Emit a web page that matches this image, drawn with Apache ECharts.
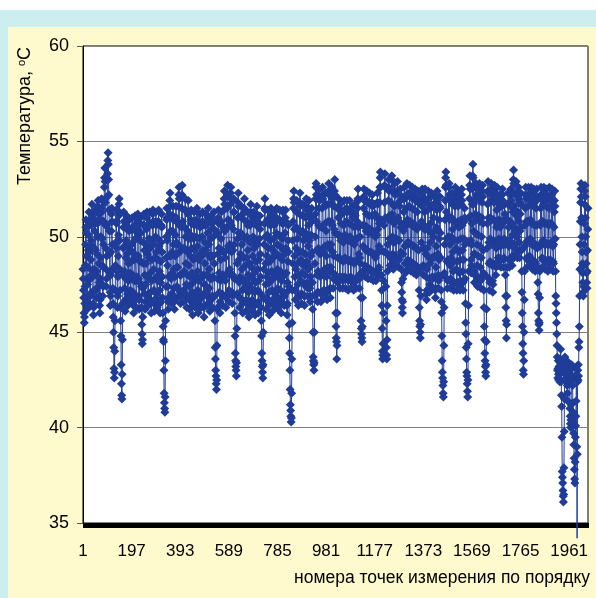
<!DOCTYPE html>
<html><head><meta charset="utf-8">
<script src="https://cdn.jsdelivr.net/npm/echarts@6/dist/echarts.min.js"></script>
<style>
html,body{margin:0;padding:0;width:596px;height:598px;background:#fff;overflow:hidden}
#frame{position:absolute;left:0;top:10px;width:596px;height:588px;background:#CCEEEE}
#inner{position:absolute;left:8px;top:27px;width:588px;height:571px;background:#FFFACD}
#chart{position:absolute;left:0;top:0;width:596px;height:598px}
</style></head><body>
<div id="frame"></div><div id="inner"></div><div id="chart"></div>
<script>
// Temperature readings (°C), grouped by label interval (196 points each)
const seg0 = [48.3,47.8,47.2,46.8,46.0,45.5,45.8,46.5,47.4,48.5,49.6,50.5,50.9,50.2,
49.0,47.8,46.9,46.2,46.6,47.5,48.4,49.3,50.1,50.8,51.3,50.6,49.2,47.9,
47.0,46.4,46.9,47.8,48.8,49.8,50.6,51.2,51.7,51.0,49.5,48.2,47.1,46.5,
45.9,46.3,47.2,48.3,49.4,50.3,50.9,51.4,50.7,49.3,48.0,47.2,46.8,47.3,
48.2,49.1,50.0,50.7,51.6,51.9,51.2,50.0,48.6,47.6,46.9,46.4,46.0,46.7,
47.8,48.9,50.0,50.9,51.5,52.0,51.3,49.9,48.5,47.5,46.9,47.4,48.4,49.6,
50.8,51.8,52.6,53.1,53.6,52.9,51.8,50.6,49.4,48.3,47.4,47.8,49.0,50.6,
52.1,53.3,54.0,54.4,53.8,53.0,52.2,51.4,50.3,49.1,48.1,47.1,46.4,46.9,
48.0,49.2,50.3,51.2,51.5,50.8,49.6,48.3,47.3,46.5,45.8,45.0,44.2,43.1,
42.6,42.9,44.0,45.6,47.2,48.5,49.7,50.8,51.4,50.7,49.4,48.2,47.1,46.3,
46.9,47.9,49.0,50.1,51.1,51.7,52.0,51.3,49.8,48.3,47.2,46.3,45.6,44.8,
43.3,42.3,41.7,41.5,42.8,44.6,46.5,48.0,49.4,50.5,51.3,50.8,49.5,48.2,
47.3,46.6,46.1,46.7,47.8,48.9,49.8,50.6,51.1,50.4,49.1,47.9,47.0,46.4,
46.8,47.7,48.6,49.5,50.3,50.9,50.4,49.3,48.1,47.2,46.6,46.9,47.8,48.7];
const seg1 = [49.6,50.4,51.0,50.5,49.2,48.0,47.1,46.4,46.0,46.6,47.7,48.8,49.8,50.6,
51.1,50.3,48.9,47.7,46.9,46.3,46.8,47.9,49.0,50.0,50.8,51.2,50.4,49.0,
47.8,46.9,46.2,46.7,47.6,48.7,49.8,50.7,51.0,50.2,48.7,47.4,46.3,45.4,
44.9,44.4,44.6,45.8,47.3,48.6,49.7,50.6,51.2,50.6,49.3,48.0,47.0,46.2,
46.6,47.5,48.6,49.6,50.4,51.0,51.3,50.5,49.1,47.9,47.0,46.4,46.8,47.8,
48.9,49.9,50.7,51.3,50.7,49.4,48.1,47.1,46.5,46.0,46.6,47.7,48.8,49.8,
50.6,51.2,51.4,50.8,49.6,48.3,47.2,46.5,46.1,46.7,47.8,48.9,50.0,50.8,
51.3,50.6,49.2,47.9,47.0,46.3,46.7,47.7,48.8,49.9,50.8,51.4,50.7,49.5,
48.2,47.2,46.5,46.0,46.6,47.6,48.7,49.7,50.6,51.2,50.5,49.2,47.9,46.8,
46.0,45.3,44.6,44.5,43.0,41.8,41.3,41.0,40.8,41.6,43.5,45.6,47.4,48.9,
50.0,50.9,51.5,51.0,49.8,48.5,47.4,46.6,46.2,46.8,47.9,49.0,50.2,51.2,
51.9,52.3,51.6,50.3,49.0,47.8,47.0,46.5,47.0,48.1,49.2,50.3,51.1,51.6,
50.9,49.6,48.3,47.3,46.6,46.2,46.8,47.9,49.0,50.1,51.0,51.6,51.0,49.7,
48.4,47.4,46.8,47.3,48.4,49.6,50.7,51.6,52.2,52.6,52.0,50.6,49.2,48.0];
const seg2 = [47.1,46.5,46.9,48.0,49.3,50.5,51.5,52.2,52.7,52.1,50.8,49.4,48.1,47.2,
46.6,47.1,48.2,49.4,50.5,51.4,52.0,51.4,50.0,48.6,47.5,46.8,46.3,46.9,
48.0,49.2,50.3,51.2,51.9,51.3,49.9,48.5,47.4,46.7,46.2,46.8,47.9,49.0,
50.1,50.9,51.4,50.7,49.4,48.1,47.1,46.4,45.9,46.5,47.6,48.8,49.9,50.8,
51.3,50.6,49.3,48.0,47.0,46.3,46.8,47.8,48.9,50.0,50.9,51.5,50.8,49.5,
48.2,47.2,46.5,46.0,46.6,47.7,48.8,49.9,50.7,51.2,50.5,49.1,47.8,46.9,
46.3,46.8,47.9,49.0,50.0,50.8,51.3,50.6,49.3,48.0,47.0,46.3,45.8,46.4,
47.5,48.6,49.7,50.6,51.2,50.6,49.3,48.0,47.1,46.4,46.9,48.0,49.1,50.2,
51.0,51.5,50.9,49.6,48.3,47.3,46.6,46.1,46.7,47.8,48.9,49.9,50.7,51.1,
50.4,49.0,47.8,46.9,46.3,46.8,47.9,49.0,50.0,50.8,51.3,50.4,48.6,46.9,
45.6,44.2,43.6,43.0,42.7,42.3,42.0,42.5,44.3,46.2,47.8,49.1,50.2,51.0,
51.4,50.7,49.4,48.1,47.1,46.4,46.0,46.6,47.7,48.8,49.9,50.8,51.3,50.6,
49.3,48.0,47.0,46.4,46.9,48.0,49.2,50.4,51.4,52.0,52.4,51.7,50.3,48.9,
47.7,46.9,46.3,46.8,48.0,49.3,50.5,51.5,52.2,52.7,52.2,50.9,49.5,48.2];
const seg3 = [47.2,46.6,47.1,48.3,49.6,50.8,51.7,52.3,52.6,52.0,50.6,49.2,48.0,47.1,
46.5,46.9,48.0,49.3,50.4,51.3,52.0,51.3,49.6,47.8,46.0,44.8,43.9,43.5,
43.2,43.0,42.7,43.4,45.2,47.0,48.6,49.9,51.0,51.8,52.3,51.6,50.2,48.8,
47.6,46.8,46.3,46.8,47.9,49.1,50.2,51.1,51.6,51.0,49.6,48.3,47.2,46.5,
46.0,46.6,47.7,48.9,50.0,50.9,51.5,52.0,51.3,49.9,48.5,47.4,46.6,46.1,
46.7,47.8,48.9,50.0,50.8,51.3,50.6,49.3,48.0,47.1,46.4,45.8,46.4,47.5,
48.6,49.7,50.6,51.3,51.7,51.1,49.7,48.4,47.3,46.6,46.1,46.7,47.8,49.0,
50.0,50.8,51.3,50.7,49.4,48.1,47.1,46.4,45.9,46.5,47.6,48.7,49.8,50.6,
51.2,51.6,51.0,49.6,48.3,47.2,46.5,46.0,46.6,47.7,48.8,49.9,50.7,51.1,
50.4,49.1,47.9,47.0,46.3,45.6,44.8,43.9,43.5,43.2,42.9,42.6,43.3,45.0,
46.8,48.3,49.6,50.7,51.5,52.0,51.4,50.0,48.6,47.5,46.7,46.2,46.8,47.9,
49.0,50.1,50.9,51.4,50.7,49.4,48.1,47.1,46.4,45.9,46.5,47.6,48.7,49.8,
50.6,51.1,51.5,50.8,49.4,48.2,47.2,46.6,46.1,46.7,47.8,48.9,49.9,50.8,
51.3,50.6,49.2,48.0,47.0,46.4,46.8,47.9,49.1,50.2,51.0,51.5,50.9,49.6];
const seg4 = [48.3,47.3,46.6,46.2,46.8,47.9,49.0,50.1,50.9,51.4,50.8,49.5,48.2,47.2,
46.5,46.0,46.6,47.7,48.8,49.9,50.7,51.3,51.4,50.7,49.3,48.0,47.0,46.4,
46.9,48.0,49.1,50.2,51.0,51.4,50.8,49.4,48.1,47.1,46.4,45.9,46.5,47.6,
48.7,49.8,50.6,49.2,47.4,45.4,44.7,43.9,43.0,42.0,41.2,40.9,40.6,40.3,
40.5,41.8,43.6,45.5,47.2,48.6,49.8,50.8,51.5,52.0,52.4,51.8,50.4,49.0,
47.9,47.2,46.7,47.2,48.3,49.4,50.5,51.3,51.9,51.3,49.9,48.6,47.5,46.8,
46.4,46.9,48.0,49.2,50.3,51.2,51.8,52.3,51.6,50.2,48.8,47.7,47.0,46.5,
47.0,48.1,49.2,50.3,51.1,51.7,51.1,49.8,48.5,47.5,46.9,46.4,46.9,48.0,
49.1,50.2,51.0,51.6,52.0,51.4,50.0,48.7,47.6,46.9,47.3,48.3,49.5,50.6,
51.4,51.9,51.2,49.8,48.4,47.3,46.6,46.9,47.9,49.0,50.1,51.0,51.5,50.8,
49.2,47.6,46.2,45.0,43.7,43.5,43.3,43.0,43.4,45.0,46.9,48.6,50.0,51.2,
52.0,52.6,52.8,52.2,50.8,49.3,48.0,47.1,46.6,47.1,48.2,49.4,50.6,51.5,
52.1,52.5,51.9,50.5,49.1,47.9,47.1,46.6,47.0,48.1,49.3,50.5,51.5,52.2,
52.6,52.0,50.6,49.2,48.0,47.2,46.8,47.2,48.3,49.5,50.7,51.6,52.3,51.7];
const seg5 = [50.3,49.0,47.9,47.1,46.7,47.2,48.4,49.6,50.8,51.7,52.4,52.8,52.2,50.8,
49.4,48.2,47.3,46.8,47.3,48.4,49.6,50.8,51.7,52.3,52.6,52.0,50.6,49.2,
48.1,47.3,47.8,49.0,50.4,51.6,52.4,53.0,52.2,50.2,48.0,46.0,45.3,44.7,
44.5,43.6,44.3,46.0,47.6,48.9,50.1,51.0,51.6,52.0,51.4,50.1,48.9,47.9,
47.3,47.8,48.8,49.8,50.7,51.4,51.8,51.2,50.0,48.8,47.9,47.3,47.7,48.7,
49.7,50.6,51.3,51.9,51.3,50.1,48.9,47.9,47.3,47.8,48.8,49.9,50.8,51.5,
51.9,51.3,50.0,48.8,47.8,47.2,47.7,48.7,49.8,50.7,51.4,51.9,51.3,50.0,
48.8,47.9,47.3,47.7,48.7,49.7,50.6,51.3,51.6,51.0,49.8,48.7,47.8,47.2,
47.6,48.6,49.6,50.5,51.2,51.7,51.1,49.9,48.7,47.8,47.3,47.7,48.8,49.9,
50.8,51.5,52.0,52.5,51.9,50.5,49.1,48.0,47.3,47.8,48.9,50.0,50.6,48.6,
46.8,45.6,45.2,44.9,44.7,44.5,45.3,46.8,48.2,49.5,50.6,51.5,52.1,52.5,
51.9,50.6,49.4,48.5,47.9,48.3,49.3,50.3,51.2,51.9,52.4,51.8,50.5,49.3,
48.4,47.8,48.2,49.2,50.2,51.1,51.8,52.3,51.7,50.4,49.2,48.3,47.8,48.2,
49.2,50.2,51.1,51.8,52.2,51.6,50.3,49.1,48.2,47.7,48.1,49.1,50.2,51.1];
const seg6 = [51.7,51.2,50.0,48.9,48.1,47.7,48.1,49.1,50.1,51.0,51.8,52.3,51.7,50.4,
49.2,48.3,47.9,48.4,49.5,50.7,51.8,52.6,53.1,53.4,52.6,50.9,49.3,48.0,
47.2,46.4,45.2,44.0,43.6,43.8,44.4,46.0,47.7,49.2,50.6,51.8,52.7,53.3,
52.6,51.0,49.2,47.4,45.6,44.2,43.8,43.6,44.6,46.4,48.2,49.6,50.9,51.9,
52.6,53.0,52.4,51.1,49.9,49.0,48.5,48.9,49.9,50.9,51.8,52.5,53.0,53.2,
52.5,51.2,50.0,49.1,48.6,48.3,48.7,49.7,50.7,51.6,52.3,52.8,52.2,50.9,
49.8,49.0,48.5,48.9,49.9,50.9,51.7,52.4,52.9,52.3,51.0,49.8,48.9,48.4,
48.8,49.8,50.8,51.6,52.2,52.5,51.9,50.5,49.2,48.3,47.6,47.1,46.7,46.3,
46.0,46.6,47.8,49.1,50.3,51.3,52.0,52.6,52.0,50.7,49.5,48.6,48.1,48.6,
49.6,50.6,51.5,52.2,52.8,52.2,50.9,49.7,48.8,48.3,48.7,49.7,50.7,51.6,
52.3,52.7,52.1,50.8,49.6,48.7,48.2,48.6,49.6,50.6,51.5,52.2,52.6,52.0,
50.7,49.5,48.6,48.1,48.5,49.5,50.5,51.4,52.1,52.5,51.9,50.6,49.4,48.5,
48.0,48.4,49.4,50.4,51.3,52.0,52.4,51.8,50.5,49.3,48.2,47.2,46.3,45.6,
45.3,45.0,44.7,45.4,46.9,48.4,49.7,50.8,51.6,52.2,52.5,51.9,50.6,49.4];
const seg7 = [48.5,48.0,48.4,49.4,50.4,51.3,52.0,52.5,51.9,50.5,49.1,47.9,47.0,46.7,
47.2,48.3,49.4,50.5,51.4,52.0,52.4,51.7,50.3,48.9,47.8,47.1,47.5,48.6,
49.7,50.7,51.5,52.1,52.3,51.6,50.2,48.9,47.9,47.3,47.8,48.9,50.0,51.0,
51.7,52.2,51.6,50.3,49.0,47.9,47.2,46.8,47.3,48.4,49.5,50.5,51.4,52.0,
52.4,51.8,50.4,49.1,48.0,47.3,47.7,48.8,49.9,50.9,51.6,52.1,51.5,50.2,
48.9,47.9,47.2,46.6,46.0,44.8,43.5,42.9,42.6,42.2,41.8,41.6,42.4,44.3,
46.3,48.1,49.6,50.9,51.9,52.6,53.1,53.4,52.7,51.3,49.9,48.7,47.8,47.3,
47.7,48.8,50.0,51.1,52.0,52.6,52.8,52.2,50.9,49.6,48.5,47.7,47.3,47.8,
48.9,50.0,51.0,51.8,52.3,51.7,50.4,49.2,48.2,47.5,47.2,47.6,48.7,49.8,
50.8,51.6,52.2,52.6,52.0,50.7,49.4,48.3,47.6,47.2,47.6,48.7,49.8,50.8,
51.6,52.1,52.4,51.8,50.5,49.2,48.1,47.4,47.2,47.7,48.8,49.9,50.9,51.7,
52.2,52.5,51.9,50.6,49.3,48.2,47.6,47.2,47.7,48.8,49.9,50.8,51.5,51.0,
49.6,47.8,46.5,45.5,44.9,44.2,43.6,42.9,42.7,42.3,41.9,41.6,42.5,44.4,
46.4,48.2,49.7,51.0,52.0,52.7,53.2,52.5,51.1,49.8,48.8,48.1,48.5,49.6];
const seg8 = [50.7,51.7,52.5,53.2,53.8,53.1,51.7,50.3,49.1,48.2,47.6,48.0,49.1,50.2,
51.2,52.0,52.6,52.8,52.2,50.9,49.6,48.5,47.8,47.4,47.9,49.0,50.1,51.1,
51.9,52.5,52.8,52.1,50.8,49.5,48.4,47.7,47.3,47.8,48.9,50.0,51.0,51.8,
52.4,52.7,52.1,50.7,49.3,48.1,47.2,46.3,45.3,44.6,43.9,43.5,43.2,42.9,
42.7,43.3,44.5,46.2,47.9,49.4,50.7,51.7,52.4,52.9,52.3,51.0,49.7,48.6,
47.8,47.2,47.6,48.7,49.9,51.0,51.9,52.5,52.8,52.2,50.9,49.6,48.5,47.7,
47.1,47.5,48.6,49.8,50.9,51.8,52.4,52.7,52.1,50.8,49.6,48.6,48.0,48.4,
49.4,50.5,51.4,52.1,52.6,52.0,50.8,49.7,48.9,48.5,48.9,49.9,50.9,51.7,
52.2,51.6,50.5,49.5,48.8,48.4,48.8,49.8,50.8,51.6,52.2,52.5,51.9,50.7,
49.6,48.8,48.4,48.9,49.9,50.9,51.7,51.2,49.6,48.0,46.9,46.3,45.6,44.7,
45.4,46.9,48.4,49.8,50.9,51.7,52.3,51.7,50.5,49.5,48.8,48.4,48.8,49.8,
50.8,51.6,52.2,52.5,51.9,50.7,49.6,48.8,48.5,49.0,50.1,51.3,52.3,53.0,
53.5,52.8,51.6,50.5,49.6,49.0,49.4,50.3,51.3,52.2,52.9,52.3,51.1,50.0,
49.2,48.9,49.3,50.3,51.3,52.1,52.6,52.0,50.8,49.7,48.9,49.3,50.3,51.2];
const seg9 = [51.8,52.3,51.7,50.5,49.3,48.2,47.1,46.0,45.3,44.4,43.9,43.0,42.8,43.5,
45.0,46.7,48.2,49.5,50.6,51.5,52.2,52.6,52.0,50.8,49.7,48.9,48.4,48.8,
49.8,50.8,51.6,52.2,52.6,52.0,50.8,49.8,49.0,48.5,48.9,49.9,50.9,51.7,
52.3,52.6,51.9,50.7,49.6,48.8,48.3,48.7,49.7,50.7,51.6,52.2,52.5,51.8,
50.6,49.5,48.7,48.2,48.6,49.6,50.6,51.5,52.1,52.5,51.9,50.6,49.4,48.4,
47.6,47.0,46.0,45.6,45.4,45.1,45.5,46.8,48.2,49.5,50.6,51.5,52.2,52.6,
52.0,50.8,49.7,48.9,48.4,48.8,49.8,50.8,51.7,52.3,52.6,52.0,50.7,49.6,
48.8,48.3,48.7,49.7,50.7,51.6,52.2,52.5,51.9,50.7,49.6,48.8,48.2,48.6,
49.6,50.6,51.5,52.1,52.6,52.0,50.7,49.6,48.8,48.3,48.7,49.7,50.7,51.6,
52.2,52.5,51.8,50.6,49.5,48.7,48.2,48.6,49.6,50.5,51.3,51.9,52.4,51.6,
49.9,48.2,46.9,46.5,46.0,45.5,44.9,44.3,43.7,43.0,42.6,43.1,43.5,42.8,
42.5,43.2,43.6,42.9,42.4,42.8,43.4,43.0,44.1,43.2,42.4,41.7,41.1,39.5,
37.7,37.4,37.1,36.7,36.4,36.1,36.5,37.9,39.8,41.5,42.9,43.7,43.4,42.8,
43.3,42.6,42.9,43.5,43.1,42.5,42.2,41.8,41.4,42.3,43.2,42.7,43.4,42.9];
const seg10 = [42.4,43.0,42.6,41.0,40.6,40.2,40.0,40.4,41.2,42.5,43.3,42.7,43.1,42.6,
42.2,41.3,40.8,40.3,39.7,39.1,38.4,37.8,37.3,37.1,38.2,39.5,40.1,40.6,
41.4,42.8,43.2,39.0,34.2,38.6,42.4,43.0,42.5,43.3,42.7,44.2,44.5,45.3,
46.9,48.3,49.6,50.8,51.8,52.5,52.8,52.1,51.0,50.0,49.2,48.6,48.1,47.6,
47.1,46.9,47.4,48.5,49.6,50.7,51.7,52.4,52.7,52.1,51.0,50.0,49.2,48.6,
48.1,47.6,47.3,48.2,49.3,50.4,51.5];

const temperature = [].concat(seg0, seg1, seg2, seg3, seg4, seg5, seg6, seg7, seg8, seg9, seg10);
// measurement point numbers (categories): 1 .. N
const categories = temperature.map((_, i) => String(i + 1));
const yMin = 35, yMax = 60, yStep = 5;
const yTitle = 'Температура, ';
const xTitle = 'номера точек измерения по порядку';

const FONT = '"Liberation Sans", Arial, sans-serif';
const BLUE = '#1F3C99';
const chart = echarts.init(document.getElementById('chart'), null, {renderer: 'canvas'});
chart.setOption({
  animation: false,
  backgroundColor: 'transparent',
  grid: {left: 83, right: 8, top: 46, bottom: 75, show: true, backgroundColor: '#fff', borderColor: '#000', borderWidth: 1},
  xAxis: {
    type: 'category', data: categories, boundaryGap: false,
    axisLine: {lineStyle: {color: '#000', width: 1}},
    axisTick: {show: true, interval: 0, length: 5, lineStyle: {color: '#000', width: 1}},
    axisLabel: {interval: 195, margin: 20, fontSize: 17, color: '#000', fontFamily: FONT, hideOverlap: false},
    splitLine: {show: false}
  },
  yAxis: {
    type: 'value', min: yMin, max: yMax, interval: yStep,
    axisLine: {show: true, lineStyle: {color: '#000', width: 1}},
    axisTick: {show: true, length: 6, lineStyle: {color: '#555'}},
    axisLabel: {margin: 14, fontSize: 18, color: '#000', fontFamily: FONT},
    splitLine: {show: true, lineStyle: {color: '#808080', width: 1}}
  },
  series: [{
    type: 'line', data: temperature, clip: false, showAllSymbol: true,
    symbol: function (v) { return v < yMin ? 'none' : 'diamond'; },
    symbolSize: 9,
    lineStyle: {color: BLUE, width: 1},
    itemStyle: {color: BLUE},
    emphasis: {disabled: true}
  }],
  graphic: [
    {type: 'text', x: 25, y: 116, rotation: Math.PI / 2,
     style: {text: '{a|' + yTitle + '}{s|o}{a|C}', align: 'center', verticalAlign: 'middle', fill: '#000',
       rich: {a: {fontSize: 18, fontFamily: FONT, fill: '#000'}, s: {fontSize: 11, fontFamily: FONT, verticalAlign: 'top', fill: '#000'}}}},
    {type: 'text', x: 590, y: 578,
     style: {text: xTitle, font: '17.5px ' + FONT, fill: '#000', align: 'right', verticalAlign: 'middle'}}
  ]
});
</script>
</body></html>
